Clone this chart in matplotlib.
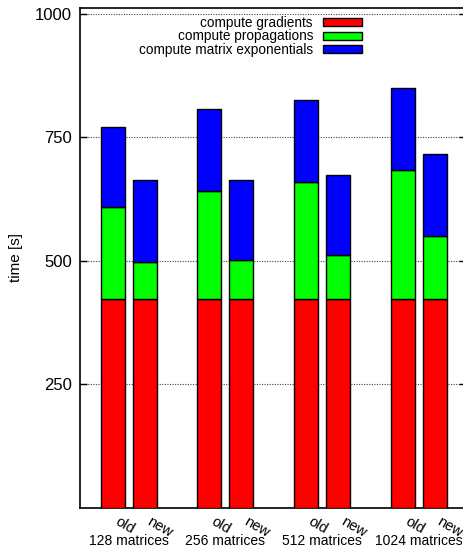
"""
Stacked bar chart: runtime split of old vs new implementation
"""
import matplotlib
matplotlib.use('Agg')
import matplotlib.pyplot as plt
from matplotlib.patches import Patch
from matplotlib.transforms import blended_transform_factory
import numpy as np

plt.rcParams['font.family'] = ['Liberation Sans', 'DejaVu Sans']

# data
groups = ['128 matrices', '256 matrices', '512 matrices', '1024 matrices']
versions = ['old', 'new']
parts = ['compute gradients', 'compute propagations', 'compute matrix exponentials']
colors = ['#ff0000', '#00ff00', '#0000ff']

# seconds per part, ordered old/new within each group
gradients = [423, 423, 423, 423, 423, 423, 423, 423]
propagations = [187, 74, 219, 78, 237, 90, 262, 127]
exponentials = [162, 166, 165, 163, 166, 162, 165, 166]

yticks = [250, 500, 750, 1000]


def make_plot():
    fig = plt.figure(figsize=(4.64, 5.48), dpi=100)
    ax = fig.add_axes([80 / 464, 40 / 548, 386 / 464, 500 / 548])

    # old at 3*i, new at 3*i + 1
    x = np.array([3 * g + v for g in range(len(groups)) for v in range(len(versions))])
    width = 0.745

    bottom = np.zeros(len(x))
    for vals, col, lab in zip([gradients, propagations, exponentials], colors, parts):
        ax.bar(x, vals, width, bottom=bottom, color=col, edgecolor='black',
               linewidth=1.0, label=lab, zorder=3)
        bottom += np.array(vals)

    ax.set_xlim(-1.01, 10.97)
    ax.set_ylim(0, 1012)

    # y axis
    ax.set_yticks(yticks)
    ax.set_yticklabels([str(t) for t in yticks], fontsize=12)
    ax.tick_params(axis='y', direction='in', length=5, width=1.0, pad=6,
                   right=True)
    ax.yaxis.grid(True, color='#444444', linestyle=(0, (1, 1.3)), linewidth=0.8,
                  zorder=0)
    ax.set_axisbelow(True)
    ax.set_ylabel('time [s]', fontsize=11, va='center')
    ax.yaxis.set_label_coords(-64 / 386, 0.5)

    # x axis: old/new under each bar, group name below
    ax.set_xticks(x)
    ax.set_xticklabels(versions * len(groups), fontsize=10.5, rotation=-30,
                       ha='left')
    ax.tick_params(axis='x', length=0, pad=5)
    trans = blended_transform_factory(ax.transData, ax.transAxes)
    for g, name in enumerate(groups):
        ax.text(3 * g + 0.5, -33 / 500, name, transform=trans, fontsize=10,
                ha='center', va='center')

    for side in ['left', 'bottom', 'top', 'right']:
        ax.spines[side].set_linewidth(1.2)

    handles = [Patch(facecolor=c, edgecolor='black', linewidth=1.0) for c in colors]
    ax.legend(handles, parts, loc='upper right', bbox_to_anchor=(282 / 386, 0.984),
              frameon=False, markerfirst=False, fontsize=9.8, handlelength=2.9,
              handleheight=0.5, handletextpad=0.7, labelspacing=-0.04,
              borderpad=0, borderaxespad=0)

    fig.savefig('out.png', dpi=100)


if __name__ == "__main__":
    make_plot()
